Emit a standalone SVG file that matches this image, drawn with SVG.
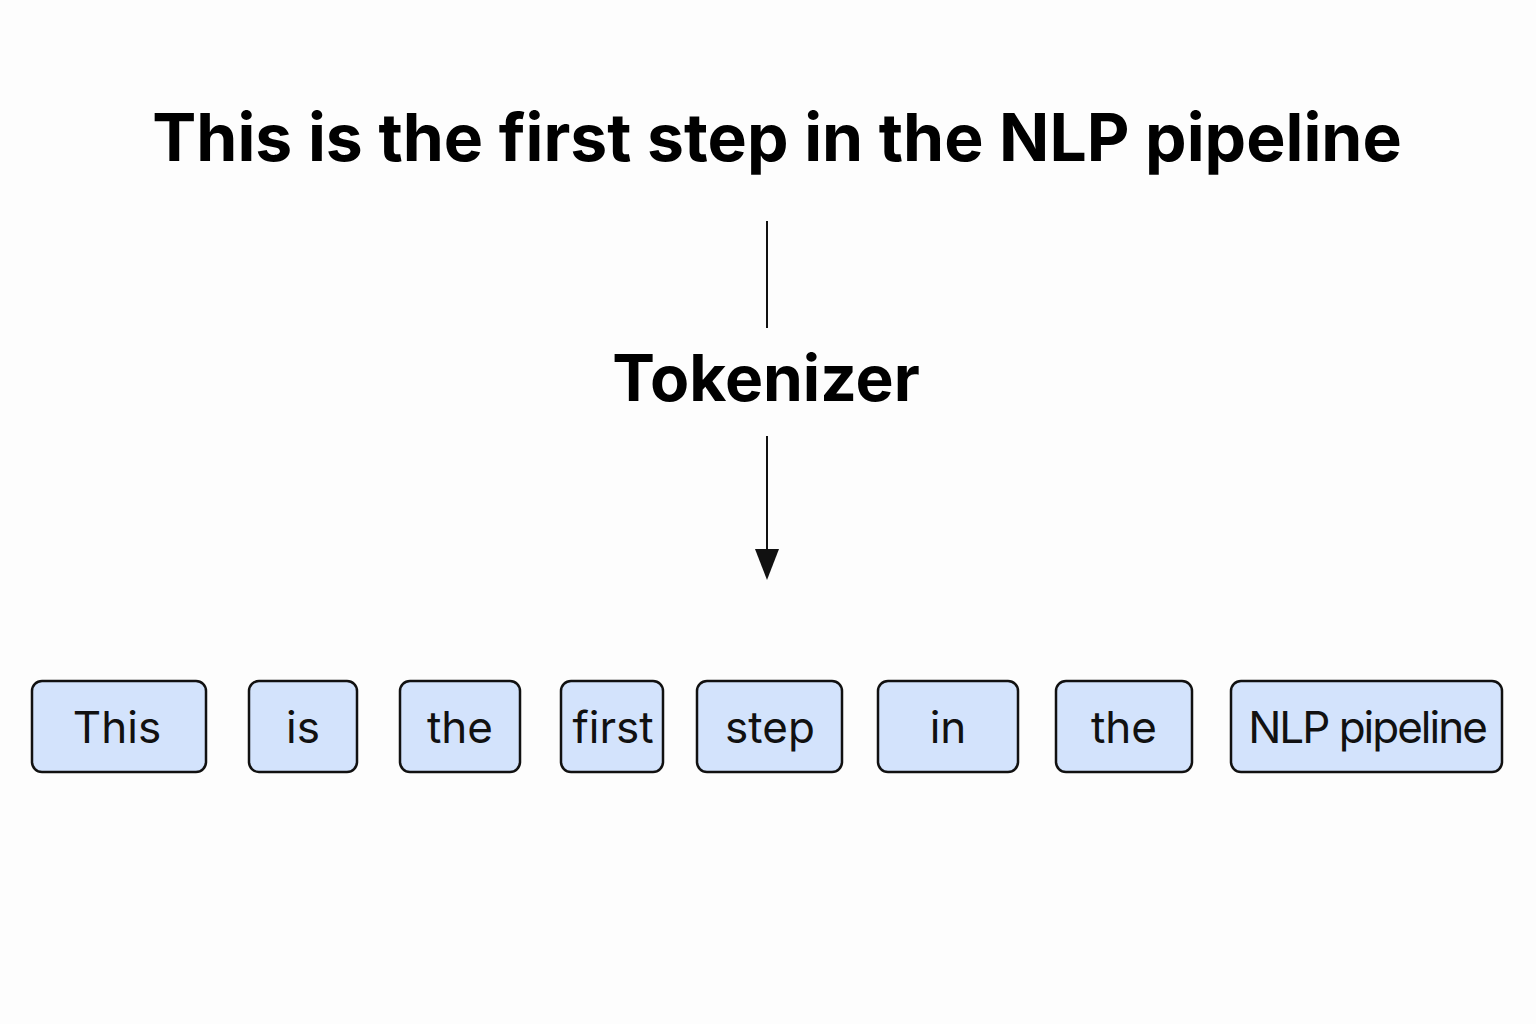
<svg xmlns="http://www.w3.org/2000/svg" width="1536" height="1024" viewBox="0 0 1536 1024">
<style>
.b{fill:#d3e3fc;stroke:#111;stroke-width:2.5}
.t{font-family:Inter,"Liberation Sans",sans-serif;font-size:44px;fill:#111;text-anchor:middle}
.h{font-family:Inter,"Liberation Sans",sans-serif;font-weight:bold;fill:#000;text-anchor:middle}
</style>
<rect width="1536" height="1024" fill="#fdfdfd"/>
<text class="h" x="777" y="161" font-size="66">This is the first step in the NLP pipeline</text>
<text class="h" x="766" y="401" font-size="64">Tokenizer</text>
<g id="connectors" stroke="#111" stroke-width="2">
<line x1="767" y1="221" x2="767" y2="328"/>
<line x1="767" y1="436" x2="767" y2="552"/>
<polygon points="755,549 779,549 767,580" fill="#111" stroke="none"/>
</g>
<g id="n1"><rect class="b" x="32" y="681" width="174" height="91" rx="10"/><text class="t" x="117" y="743">This</text></g>
<g id="n2"><rect class="b" x="249" y="681" width="108" height="91" rx="10"/><text class="t" x="303" y="743">is</text></g>
<g id="n3"><rect class="b" x="400" y="681" width="120" height="91" rx="10"/><text class="t" x="460" y="743">the</text></g>
<g id="n4"><rect class="b" x="561" y="681" width="102" height="91" rx="10"/><text class="t" x="613" y="743">first</text></g>
<g id="n5"><rect class="b" x="697" y="681" width="145" height="91" rx="10"/><text class="t" x="770" y="743">step</text></g>
<g id="n6"><rect class="b" x="878" y="681" width="140" height="91" rx="10"/><text class="t" x="948" y="743">in</text></g>
<g id="n7"><rect class="b" x="1056" y="681" width="136" height="91" rx="10"/><text class="t" x="1124" y="743">the</text></g>
<g id="n8"><rect class="b" x="1231" y="681" width="271" height="91" rx="10"/><text class="t" x="1367" y="743" letter-spacing="-2">NLP pipeline</text></g>
</svg>
